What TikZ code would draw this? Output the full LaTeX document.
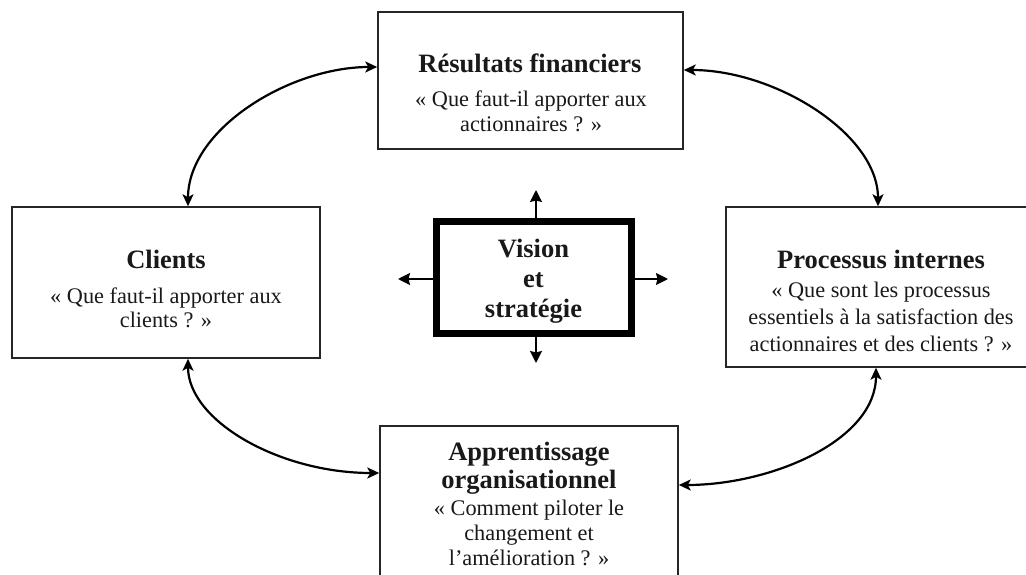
\documentclass[tikz,border=0pt]{standalone}
\usepackage{fontspec}
\setmainfont{Liberation Serif}
\usetikzlibrary{arrows.meta}
\begin{document}
\begin{tikzpicture}[x=1pt,y=-1pt,
  boxnode/.style={draw=black!85, line width=1.5pt, rectangle, inner sep=0pt},
  visbox/.style={draw=black, line width=7pt, rectangle, inner sep=0pt},
  ttl/.style={font=\bfseries\fontsize{26.5}{30}\selectfont, anchor=base, inner sep=0pt, align=center, text=black!90},
  bdy/.style={font=\fontsize{22.3}{25}\selectfont, anchor=base, inner sep=0pt, align=center, text=black!90},
  link/.style={line width=2.2pt, {Stealth[length=12pt,width=11pt,inset=3pt]}-{Stealth[length=12pt,width=11pt,inset=3pt]}},
  ray/.style={line width=2pt, -{Stealth[length=12pt,width=12pt,inset=1.5pt]}}
]
\useasboundingbox (0,0) rectangle (1026,575);

% boxes
\node[boxnode, minimum width=305pt, minimum height=137pt] (fin) at (530.5,80.5) {};
\node[boxnode, minimum width=308pt, minimum height=151pt] (cli) at (166,282.5) {};
\node[boxnode, minimum width=310pt, minimum height=160pt] (proc) at (881,287) {};
\node[boxnode, minimum width=298pt, minimum height=170pt] (app) at (529,511) {};
\node[visbox, minimum width=195pt, minimum height=112pt] (vis) at (534,277.5) {};

% texts (base anchor = baseline of the last line)
\node[ttl] (finT) at (530,73) {Résultats financiers};
\node[bdy] (finB) at (531,132) {« Que faut-il apporter aux\\actionnaires ? »};
\node[ttl] (cliT) at (166,268) {Clients};
\node[bdy, font=\fontsize{22.3}{24}\selectfont] (cliB) at (166,327) {« Que faut-il apporter aux\\clients ? »};
\node[ttl] (procT) at (881,268) {Processus internes};
\node[bdy, font=\fontsize{22.3}{27}\selectfont] (procB) at (881,351) {« Que sont les processus\\essentiels à la satisfaction des\\actionnaires et des clients ? »};
\node[ttl, font=\bfseries\fontsize{26.5}{28}\selectfont] (appT) at (529,488) {Apprentissage\\organisationnel};
\node[bdy] (appB) at (529,565) {« Comment piloter le\\changement et\\l’amélioration ? »};
\node[ttl] (visT) at (533.5,317) {Vision\\et\\stratégie};

% curved links
\draw[link] ([xshift=22pt]cli.north) .. controls +(0,-77) and +(-88,0) .. ([yshift=13.5pt]fin.west);
\draw[link] ([yshift=10.5pt]fin.east) .. controls +(92,0) and +(0,-72) .. ([xshift=-3pt]proc.north);
\draw[link] ([xshift=22pt]cli.south) .. controls +(0,62) and +(-100,0) .. ([yshift=38pt]app.west);
\draw[link] ([xshift=-5pt]proc.south) .. controls +(0,73) and +(92,0) .. ([yshift=26pt]app.east);

% rays from vision
\coordinate (vN) at (536,190);
\coordinate (vS) at (536,363);
\coordinate (vW) at (398,279);
\coordinate (vE) at (668,279);
\draw[ray] (vis.north -| vN) -- (vN);
\draw[ray] (vis.south -| vS) -- (vS);
\draw[ray] (vis.west |- vW) -- (vW);
\draw[ray] (vis.east |- vE) -- (vE);
\end{tikzpicture}
\end{document}
